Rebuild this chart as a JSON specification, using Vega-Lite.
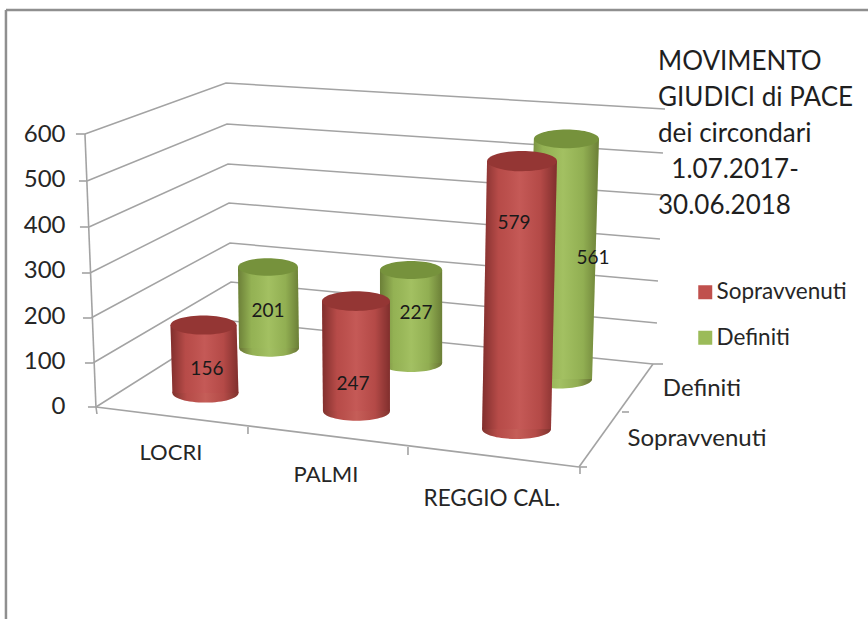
{
"$schema":"https://vega.github.io/schema/vega-lite/v6.json",
"width":868,"height":619,"padding":0,"autosize":{"type":"none"},"background":"white",
"config":{"view":{"stroke":null},"font":"Lato"},
"title":{"text":["MOVIMENTO","GIUDICI di PACE","dei circondari","\u200b\u00a0\u00a01.07.2017-","30.06.2018"],"anchor":"start","frame":"group","dx":658,"dy":245,"fontSize":26,"lineHeight":36,"font":"Lato","fontWeight":"normal","color":"#1f1f1f","baseline":"bottom","offset":0},
"data":{"values":[
{"category":"LOCRI","series":"Sopravvenuti","value":156},
{"category":"LOCRI","series":"Definiti","value":201},
{"category":"PALMI","series":"Sopravvenuti","value":247},
{"category":"PALMI","series":"Definiti","value":227},
{"category":"REGGIO CAL.","series":"Sopravvenuti","value":579},
{"category":"REGGIO CAL.","series":"Definiti","value":561}
]},
"transform":[
{"calculate":"{'LOCRI|Sopravvenuti':[0.668,0.205,0.680,0.205,30.8,0.958,0.689,83.5],'LOCRI|Definiti':[1.068,0.186,1.075,0.186,129.7,0.886,1.068,211],'PALMI|Sopravvenuti':[1.615,0.211,1.618,0.208,-8.8,0.978,1.596,50.6],'PALMI|Definiti':[1.957,0.193,1.957,0.193,96.7,0.901,1.988,206.6],'REGGIO CAL.|Sopravvenuti':[2.646,0.217,2.612,0.214,-48.4,1.017,2.596,404.4],'REGGIO CAL.|Definiti':[2.922,0.202,2.879,0.202,61.5,0.941,3.087,327.5]}[datum.category+'|'+datum.series]","as":"g"},
{"calculate":"datum.g[0]","as":"xTop"},
{"calculate":"datum.g[2]","as":"xBase"},
{"calculate":"datum.g[4]","as":"yBase"},
{"calculate":"datum.g[4]+datum.value*datum.g[5]","as":"yTop"},
{"calculate":"pow(2*datum.g[1]*161,2)","as":"sizeTop"},
{"calculate":"pow(2*datum.g[3]*161,2)","as":"sizeBase"},
{"calculate":"datum.g[6]","as":"xLabel"},
{"calculate":"datum.g[7]","as":"yLabel"},
{"calculate":"[datum.yTop,datum.yBase]","as":"ends"},
{"calculate":"[datum.g[0]-datum.g[1],datum.g[2]-datum.g[3]]","as":"lefts"},
{"calculate":"[datum.g[0]+datum.g[1],datum.g[2]+datum.g[3]]","as":"rights"}
],
"layer":[
{"data":{"values":[{"edge":"top"},{"edge":"left"}]},
 "transform":[{"calculate":"{'top':[6,10,868,10],'left':[6,10,6,619]}[datum.edge]","as":"s"},{"calculate":"(datum.s[0]-96)/161","as":"a"},{"calculate":"(407-datum.s[1])*2.198","as":"b"},{"calculate":"(datum.s[2]-96)/161","as":"c"},{"calculate":"(407-datum.s[3])*2.198","as":"d"}],
 "mark":{"type":"rule","color":"#8f8f8f","strokeWidth":2.5},
 "encoding":{
  "x":{"field":"a","type":"quantitative","scale":{"domain":[-0.596,4.795],"nice":false,"zero":false},"axis":null},
  "y":{"field":"b","type":"quantitative","scale":{"domain":[-466,894.6],"nice":false,"zero":false},
   "axis":{"orient":"left","offset":-65,"values":[0,100,200,300,400,500,600],"title":null,"domain":false,"ticks":false,"grid":false,"labelPadding":0,"labelFontSize":24,"labelFont":"Lato","labelColor":"#262626","zindex":1}},
  "x2":{"field":"c"},"y2":{"field":"d"}}},
{"data":{"values":[
{"level":0,"corner":0},{"level":0,"corner":1},{"level":0,"corner":2},
{"level":100,"corner":0},{"level":100,"corner":1},{"level":100,"corner":2},
{"level":200,"corner":0},{"level":200,"corner":1},{"level":200,"corner":2},
{"level":300,"corner":0},{"level":300,"corner":1},{"level":300,"corner":2},
{"level":400,"corner":0},{"level":400,"corner":1},{"level":400,"corner":2},
{"level":500,"corner":0},{"level":500,"corner":1},{"level":500,"corner":2},
{"level":600,"corner":0},{"level":600,"corner":1},{"level":600,"corner":2}]},
 "transform":[
 {"calculate":"([[96,93,91,90,89,87,85],[232,231,230,229,228,227,226],[653,657,658,660,662,663,665]][datum.corner][datum.level/100]-96)/161","as":"a"},
 {"calculate":"(407-[[407,363,318,273,227,181,134],[321,282,243,203,164,124,83],[364,323,281,239,195,153,109]][datum.corner][datum.level/100])*2.198","as":"b"}],
 "mark":{"type":"line","color":"#a3a3a3","strokeWidth":1.5},
 "encoding":{"x":{"field":"a","type":"quantitative","axis":null},"y":{"field":"b","type":"quantitative"},"detail":{"field":"level"},"order":{"field":"corner"}}},
{"data":{"values":[{"segment":"axis"},{"segment":"xedge"},{"segment":"zedge"},{"segment":"x0"},{"segment":"x1"},{"segment":"x2"},{"segment":"x3"},{"segment":"z1"},{"segment":"z2"},{"segment":"z3"},{"segment":"y0"},{"segment":"y100"},{"segment":"y200"},{"segment":"y300"},{"segment":"y400"},{"segment":"y500"},{"segment":"y600"}]},
 "transform":[{"calculate":"{'axis':[85,134,96,407],'xedge':[96,407,579,467],'zedge':[579,467,653,364],'x0':[96,407,97,414],'x1':[248,427,248,434],'x2':[408,447,408,455],'x3':[580,467,580,474],'z1':[579,467,587,467],'z2':[622,412,629,412],'z3':[653,364,663,364],'y600':[76,134,85,134],'y500':[79,181,87,181],'y400':[80,227,89,227],'y300':[82,273,90,273],'y200':[83,318,91,318],'y100':[85,363,93,363],'y0':[88,407,96,407]}[datum.segment]","as":"s"},{"calculate":"(datum.s[0]-96)/161","as":"a"},{"calculate":"(407-datum.s[1])*2.198","as":"b"},{"calculate":"(datum.s[2]-96)/161","as":"c"},{"calculate":"(407-datum.s[3])*2.198","as":"d"}],
 "mark":{"type":"rule","color":"#a3a3a3","strokeWidth":1.6},
 "encoding":{"x":{"field":"a","type":"quantitative","axis":null},"y":{"field":"b","type":"quantitative"},"x2":{"field":"c"},"y2":{"field":"d"}}},
{"mark":{"type":"point","filled":true,"opacity":1,"shape":"M-1,0A1,0.29,0,1,1,1,0A1,0.29,0,1,1,-1,0Z"},
 "encoding":{"x":{"field":"xBase","type":"quantitative","axis":null},"y":{"field":"yBase","type":"quantitative"},"size":{"field":"sizeBase","type":"quantitative","scale":null},
 "color":{"field":"series","type":"nominal","scale":{"domain":["Sopravvenuti","Definiti"],"range":["#C0504D","#9BBB59"]},
  "legend":{"orient":"none","legendX":694,"legendY":281,"title":null,"symbolType":"square","symbolSize":196,"symbolOpacity":1,"labelFontSize":22.5,"labelFont":"Lato","labelColor":"#262626","labelOffset":0,"rowPadding":22.5,"symbolStrokeWidth":0}}}},
{"mark":{"type":"point","filled":true,"opacity":1,"fill":{"gradient":"linear","x1":0,"x2":1,"y1":0,"y2":0,"stops":[{"offset":0,"color":"rgba(30,10,0,0.4)"},{"offset":0.22,"color":"rgba(30,10,0,0.06)"},{"offset":0.5,"color":"rgba(255,255,220,0.08)"},{"offset":0.78,"color":"rgba(30,10,0,0.08)"},{"offset":1,"color":"rgba(30,10,0,0.4)"}]},"shape":"M-1,0A1,0.29,0,1,1,1,0A1,0.29,0,1,1,-1,0Z"},
 "encoding":{"x":{"field":"xBase","type":"quantitative","axis":null},"y":{"field":"yBase","type":"quantitative"},"size":{"field":"sizeBase","type":"quantitative","scale":null}}},
{"transform":[{"flatten":["ends","lefts","rights"]},{"filter":"datum.series=='Definiti'"}],
 "mark":{"type":"area","orient":"horizontal"},
 "encoding":{"y":{"field":"ends","type":"quantitative"},"x":{"field":"lefts","type":"quantitative","axis":null},"x2":{"field":"rights"},"detail":{"field":"category"},
 "color":{"field":"series","type":"nominal","legend":null}}},
{"transform":[{"flatten":["ends","lefts","rights"]},{"filter":"datum.series=='Definiti'"}],
 "mark":{"type":"area","orient":"horizontal","fill":{"gradient":"linear","x1":0,"x2":1,"y1":0,"y2":0,"stops":[{"offset":0,"color":"rgba(30,30,0,0.38)"},{"offset":0.22,"color":"rgba(30,30,0,0.06)"},{"offset":0.5,"color":"rgba(255,255,200,0.08)"},{"offset":0.78,"color":"rgba(30,30,0,0.08)"},{"offset":1,"color":"rgba(30,30,0,0.38)"}]}},
 "encoding":{"y":{"field":"ends","type":"quantitative"},"x":{"field":"lefts","type":"quantitative","axis":null},"x2":{"field":"rights"},"detail":{"field":"category"}}},
{"transform":[{"filter":"datum.series=='Definiti'"}],
 "mark":{"type":"point","filled":true,"opacity":1,"color":"#76923C","shape":"M-1,0A1,0.29,0,1,1,1,0A1,0.29,0,1,1,-1,0Z"},
 "encoding":{"x":{"field":"xTop","type":"quantitative","axis":null},"y":{"field":"yTop","type":"quantitative"},"size":{"field":"sizeTop","type":"quantitative","scale":null}}},
{"transform":[{"flatten":["ends","lefts","rights"]},{"filter":"datum.series=='Sopravvenuti'"}],
 "mark":{"type":"area","orient":"horizontal"},
 "encoding":{"y":{"field":"ends","type":"quantitative"},"x":{"field":"lefts","type":"quantitative","axis":null},"x2":{"field":"rights"},"detail":{"field":"category"},
 "color":{"field":"series","type":"nominal","legend":null}}},
{"transform":[{"flatten":["ends","lefts","rights"]},{"filter":"datum.series=='Sopravvenuti'"}],
 "mark":{"type":"area","orient":"horizontal","fill":{"gradient":"linear","x1":0,"x2":1,"y1":0,"y2":0,"stops":[{"offset":0,"color":"rgba(40,0,0,0.42)"},{"offset":0.22,"color":"rgba(40,0,0,0.06)"},{"offset":0.5,"color":"rgba(255,200,200,0.08)"},{"offset":0.78,"color":"rgba(40,0,0,0.08)"},{"offset":1,"color":"rgba(40,0,0,0.42)"}]}},
 "encoding":{"y":{"field":"ends","type":"quantitative"},"x":{"field":"lefts","type":"quantitative","axis":null},"x2":{"field":"rights"},"detail":{"field":"category"}}},
{"transform":[{"filter":"datum.series=='Sopravvenuti'"}],
 "mark":{"type":"point","filled":true,"opacity":1,"color":"#943634","shape":"M-1,0A1,0.29,0,1,1,1,0A1,0.29,0,1,1,-1,0Z"},
 "encoding":{"x":{"field":"xTop","type":"quantitative","axis":null},"y":{"field":"yTop","type":"quantitative"},"size":{"field":"sizeTop","type":"quantitative","scale":null}}},
{"mark":{"type":"text","fontSize":19,"font":"Lato","color":"#1a1a1a","align":"center","baseline":"middle"},
 "encoding":{"x":{"field":"xLabel","type":"quantitative","axis":null},"y":{"field":"yLabel","type":"quantitative"},"text":{"field":"value","type":"quantitative"}}},
{"data":{"values":[{"label":"LOCRI"},{"label":"PALMI"},{"label":"REGGIO CAL."},{"label":"Definiti"},{"label":"Sopravvenuti"}]},
 "transform":[{"calculate":"{'LOCRI':[171,453,22],'PALMI':[326,475,22],'REGGIO CAL.':[492,499,22.5],'Definiti':[702,389,24],'Sopravvenuti':[697,439,24]}[datum.label]","as":"p"},{"calculate":"(datum.p[0]-96)/161","as":"a"},{"calculate":"(407-datum.p[1])*2.198","as":"b"},{"calculate":"datum.p[2]","as":"fs"}],
 "mark":{"type":"text","font":"Lato","color":"#262626","align":"center","baseline":"middle"},
 "encoding":{"x":{"field":"a","type":"quantitative","axis":null},"y":{"field":"b","type":"quantitative"},"size":{"field":"fs","type":"quantitative","scale":null},"text":{"field":"label","type":"nominal"}}}
]}
